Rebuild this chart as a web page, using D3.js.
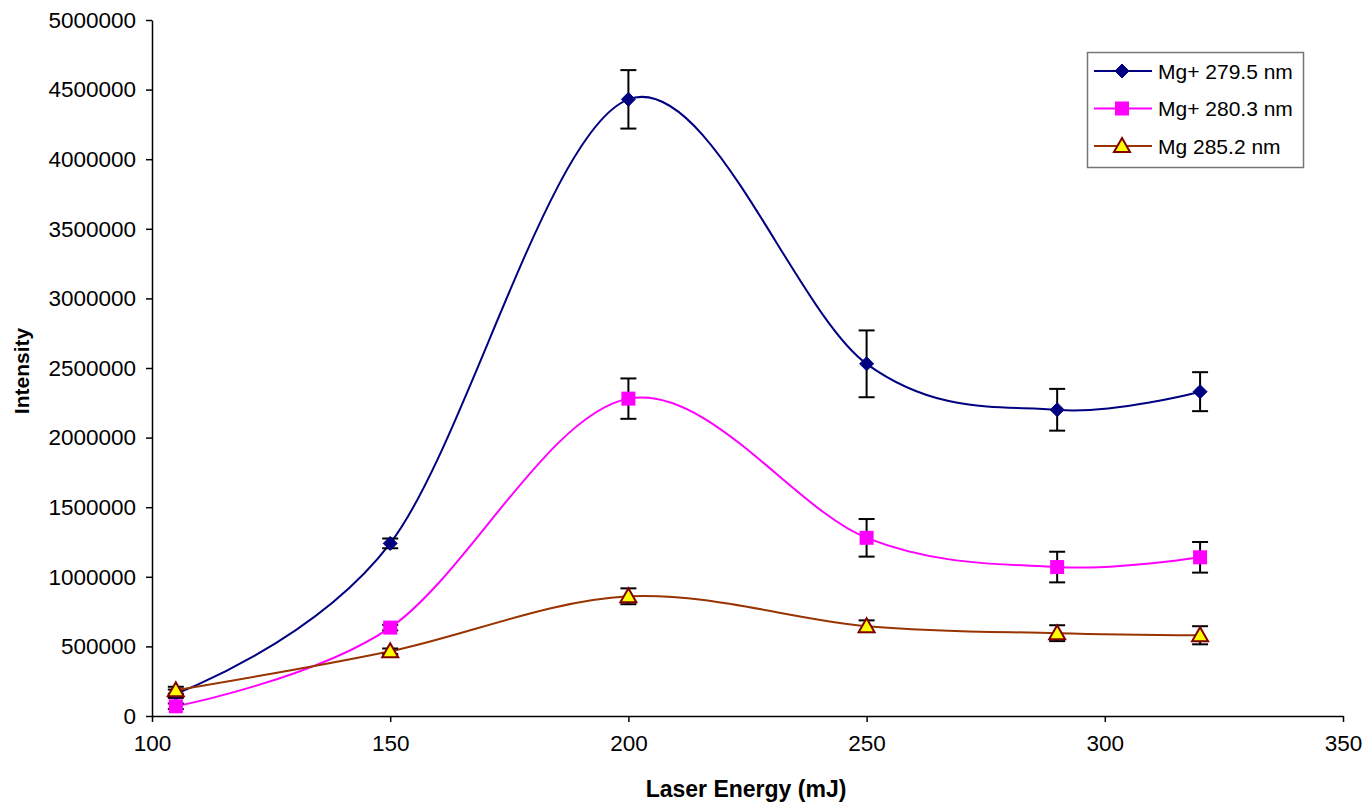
<!DOCTYPE html>
<html>
<head>
<meta charset="utf-8">
<script src="https://cdn.jsdelivr.net/npm/d3@7"></script>
<style>
  body { margin: 0; background: #fff; }
  text { font-family: "Liberation Sans", Arial, sans-serif; }
</style>
</head>
<body>
<svg id="chart"></svg>
<script>
let energy = [105, 150, 200, 250, 290, 320];

let mg2795 = [160000, 1240000, 4430000, 2530000, 2200000, 2330000];
let mg2795Err = [30000, 35000, 210000, 240000, 150000, 140000];

let mg2803 = [70000, 635000, 2280000, 1280000, 1070000, 1140000];
let mg2803Err = [20000, 20000, 145000, 135000, 110000, 110000];

let mg2852 = [185000, 465000, 860000, 645000, 595000, 580000];
let mg2852Err = [25000, 20000, 57000, 42000, 57000, 65000];

let seriesNames = ['Mg+ 279.5 nm', 'Mg+ 280.3 nm', 'Mg 285.2 nm'];
let xTicks = [100, 150, 200, 250, 300, 350];
let yTicks = [0, 500000, 1000000, 1500000, 2000000, 2500000, 3000000, 3500000, 4000000, 4500000, 5000000];

let width = 1366;
let height = 806;
let plotLeft = 152, plotRight = 1343, plotTop = 20, plotBottom = 716;

let svg = d3.select('#chart')
    .attr('width', width)
    .attr('height', height)

let xScale = d3.scaleLinear().domain([100, 350]).range([plotLeft, plotRight])
let yScale = d3.scaleLinear().domain([0, 5000000]).range([plotBottom, plotTop])

let series = [
    {name: seriesNames[0], vals: mg2795, err: mg2795Err, color: '#000080', marker: 'diamond'},
    {name: seriesNames[1], vals: mg2803, err: mg2803Err, color: '#ff00ff', marker: 'square'},
    {name: seriesNames[2], vals: mg2852, err: mg2852Err, color: '#993300', marker: 'triangle'}
]

// axes
let xAxis = d3.axisBottom(xScale).tickValues(xTicks).tickSize(6).tickSizeOuter(0).tickPadding(10)
let gx = svg.append('g')
    .attr('transform', 'translate(0,' + plotBottom + ')')
    .call(xAxis)
let yAxis = d3.axisLeft(yScale).tickValues(yTicks).tickSize(6).tickSizeOuter(0).tickPadding(10)
    .tickFormat(d3.format('d'))
let gy = svg.append('g')
    .attr('transform', 'translate(' + plotLeft + ',0)')
    .call(yAxis)

for (let g of [gx, gy]) {
    g.selectAll('path, line').attr('stroke', '#000').attr('stroke-width', 1.5)
    g.selectAll('text').attr('font-size', 22.5).attr('fill', '#000')
        .attr('font-family', '"Liberation Sans", Arial, sans-serif')
}
gx.selectAll('text').attr('dy', '0.85em')

svg.append('text')
    .attr('x', 746)
    .attr('y', 797)
    .attr('text-anchor', 'middle')
    .attr('font-size', 23)
    .attr('font-weight', 'bold')
    .text('Laser Energy (mJ)')

svg.append('text')
    .attr('transform', 'translate(29,' + 371 + ') rotate(-90)')
    .attr('text-anchor', 'middle')
    .attr('font-size', 21)
    .attr('font-weight', 'bold')
    .text('Intensity')

let line = d3.line()
    .x((d, i) => xScale(energy[i]))
    .y(d => yScale(d))
    .curve(d3.curveCardinal.tension(0))

let drawMarker = (g, s, x, y) => {
    if (s.marker === 'diamond') {
        g.append('path')
            .attr('d', `M${x},${y - 7}L${x + 7},${y}L${x},${y + 7}L${x - 7},${y}Z`)
            .attr('fill', s.color).attr('stroke', s.color)
    } else if (s.marker === 'square') {
        g.append('rect')
            .attr('x', x - 7).attr('y', y - 7).attr('width', 14).attr('height', 14)
            .attr('fill', s.color)
    } else {
        g.append('path')
            .attr('d', `M${x},${y - 8}L${x + 8},${y + 6}L${x - 8},${y + 6}Z`)
            .attr('fill', '#ffff00').attr('stroke', '#800000').attr('stroke-width', 2)
    }
}

series.forEach(s => {
    svg.append('path')
        .datum(s.vals)
        .attr('d', line)
        .attr('fill', 'none')
        .attr('stroke', s.color)
        .attr('stroke-width', 2)

    let eb = svg.append('g').attr('stroke', '#000').attr('stroke-width', 2)
    s.vals.forEach((v, i) => {
        let x = xScale(energy[i])
        let y1 = yScale(v + s.err[i]), y2 = yScale(v - s.err[i])
        eb.append('line').attr('x1', x).attr('x2', x).attr('y1', y1).attr('y2', y2)
        eb.append('line').attr('x1', x - 8).attr('x2', x + 8).attr('y1', y1).attr('y2', y1)
        eb.append('line').attr('x1', x - 8).attr('x2', x + 8).attr('y1', y2).attr('y2', y2)
    })

    let mg = svg.append('g')
    s.vals.forEach((v, i) => drawMarker(mg, s, xScale(energy[i]), yScale(v)))
})

// legend
let legend = svg.append('g')
legend.append('rect')
    .attr('x', 1087.5).attr('y', 52.5).attr('width', 216).attr('height', 115)
    .attr('fill', '#fff').attr('stroke', '#777').attr('stroke-width', 1.5)

series.forEach((s, i) => {
    let y = 71 + i * 37.5
    legend.append('line')
        .attr('x1', 1094).attr('x2', 1152).attr('y1', y).attr('y2', y)
        .attr('stroke', s.color).attr('stroke-width', 2)
    drawMarker(legend, s, 1122, y)
    legend.append('text')
        .attr('x', 1158).attr('y', y)
        .attr('dy', '0.36em')
        .attr('font-size', 21)
        .text(s.name)
})
</script>
</body>
</html>
